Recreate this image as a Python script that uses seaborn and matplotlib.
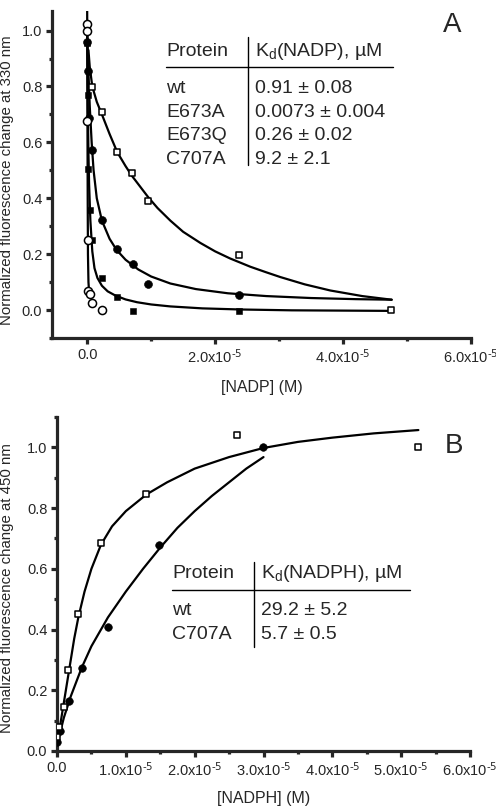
import numpy as np
import pandas as pd
import seaborn as sns
import matplotlib.pyplot as plt
from matplotlib.lines import Line2D
from matplotlib.ticker import MultipleLocator, FuncFormatter

# ---- panel A: NADP titration (fluorescence at 330 nm) ----
a_wt_x = [0.0, 0.02e-5, 0.035e-5, 0.07e-5, 0.23e-5, 0.46e-5, 0.71e-5, 0.95e-5, 2.37e-5]
a_wt_y = [0.96, 0.855, 0.686, 0.571, 0.321, 0.218, 0.164, 0.095, 0.055]
a_e673a_x = [0.0, 0.001e-5, 0.002e-5, 0.005e-5, 0.02e-5, 0.05e-5, 0.07e-5, 0.23e-5]
a_e673a_y = [1.025, 1.0, 0.675, 0.25, 0.069, 0.057, 0.025, 0.0]
a_e673q_x = [0.0, 0.005e-5, 0.02e-5, 0.05e-5, 0.07e-5, 0.23e-5, 0.46e-5, 0.71e-5, 2.37e-5]
a_e673q_y = [0.955, 0.768, 0.504, 0.357, 0.25, 0.115, 0.047, -0.004, -0.003]
a_c707a_x = [0.07e-5, 0.23e-5, 0.47e-5, 0.70e-5, 0.95e-5, 2.37e-5, 4.75e-5]
a_c707a_y = [0.797, 0.707, 0.564, 0.489, 0.39, 0.196, 0.0]

# fitted curves
a_wt_fit_x = [0.0, 0.01e-5, 0.02e-5, 0.04e-5, 0.07e-5, 0.1e-5, 0.15e-5, 0.23e-5, 0.35e-5,
              0.46e-5, 0.6e-5, 0.8e-5, 1.0e-5, 1.3e-5, 1.7e-5, 2.2e-5, 2.8e-5, 3.5e-5,
              4.2e-5, 4.76e-5]
a_wt_fit_y = [1.0, 0.92, 0.85, 0.73, 0.6, 0.5, 0.4, 0.32, 0.255, 0.215, 0.18, 0.145, 0.12,
              0.095, 0.075, 0.06, 0.05, 0.043, 0.039, 0.037]
a_e673a_fit_x = [0.0, 0.004e-5, 0.008e-5, 0.012e-5, 0.02e-5, 0.03e-5]
a_e673a_fit_y = [1.07, 0.7, 0.4, 0.2, 0.1, 0.065]
a_e673q_fit_x = [0.0, 0.01e-5, 0.02e-5, 0.03e-5, 0.05e-5, 0.08e-5, 0.114e-5, 0.16e-5,
                 0.23e-5, 0.32e-5, 0.44e-5, 0.6e-5, 0.78e-5, 1.0e-5, 1.3e-5, 1.8e-5,
                 2.4e-5, 3.2e-5, 4.0e-5, 4.76e-5]
a_e673q_fit_y = [1.0, 0.72, 0.56, 0.45, 0.32, 0.21, 0.15, 0.115, 0.087, 0.067, 0.052, 0.038,
                 0.028, 0.02, 0.013, 0.006, 0.002, -0.001, -0.002, -0.003]
a_c707a_fit_x = [0.02e-5, 0.04e-5, 0.08e-5, 0.15e-5, 0.23e-5, 0.35e-5, 0.47e-5, 0.6e-5,
                 0.7e-5, 0.85e-5, 0.95e-5, 1.1e-5, 1.3e-5, 1.5e-5, 1.77e-5, 2.0e-5,
                 2.23e-5, 2.55e-5, 2.8e-5, 3.02e-5, 3.4e-5, 3.8e-5, 4.3e-5, 4.76e-5]
a_c707a_fit_y = [0.93, 0.87, 0.80, 0.745, 0.70, 0.63, 0.565, 0.515, 0.48, 0.435, 0.405,
                 0.365, 0.32, 0.28, 0.24, 0.21, 0.185, 0.155, 0.135, 0.118, 0.092, 0.07,
                 0.05, 0.037]

a_proteins = ['wt', 'E673A', 'E673Q', 'C707A']
a_kd = ['0.91 \u00b1 0.08', '0.0073 \u00b1 0.004', '0.26 \u00b1 0.02', '9.2 \u00b1 2.1']

# ---- panel B: NADPH titration (fluorescence at 450 nm) ----
b_wt_x = [0.005e-5, 0.04e-5, 0.17e-5, 0.36e-5, 0.74e-5, 1.48e-5, 2.99e-5]
b_wt_y = [0.03, 0.066, 0.165, 0.273, 0.41, 0.68, 1.0]
b_c707a_x = [0.0, 0.03e-5, 0.10e-5, 0.16e-5, 0.31e-5, 0.64e-5, 1.30e-5, 2.62e-5, 5.24e-5]
b_c707a_y = [0.045, 0.08, 0.146, 0.266, 0.45, 0.685, 0.845, 1.04, 1.0]

b_wt_fit_x = [0.0, 0.1e-5, 0.2e-5, 0.36e-5, 0.5e-5, 0.74e-5, 1.0e-5, 1.25e-5, 1.5e-5,
              1.75e-5, 2.0e-5, 2.25e-5, 2.5e-5, 2.75e-5, 3.0e-5]
b_wt_fit_y = [0.02, 0.11, 0.18, 0.275, 0.345, 0.44, 0.525, 0.6, 0.67, 0.735, 0.79, 0.84,
              0.885, 0.93, 0.968]
b_c707a_fit_x = [0.0, 0.05e-5, 0.1e-5, 0.15e-5, 0.2e-5, 0.25e-5, 0.31e-5, 0.4e-5, 0.5e-5,
                 0.64e-5, 0.8e-5, 1.0e-5, 1.3e-5, 1.6e-5, 2.0e-5, 2.5e-5, 3.0e-5, 3.5e-5,
                 4.0e-5, 4.6e-5, 5.25e-5]
b_c707a_fit_y = [0.02, 0.09, 0.16, 0.23, 0.3, 0.37, 0.44, 0.525, 0.6, 0.68, 0.74, 0.79,
                 0.845, 0.885, 0.93, 0.968, 0.998, 1.018, 1.032, 1.046, 1.057]

b_proteins = ['wt', 'C707A']
b_kd = ['29.2 \u00b1 5.2', '5.7 \u00b1 0.5']

W, H = 496, 806


def sciLabel(v, pos):

	"""
	tick labels like 2.0x10^-5
	"""

	if abs(v) < 1e-12:
		return '0.0'
	return r'{:.1f}x10$^{{\text{{-5}}}}$'.format(v / 1e-5)


def styleAxes(ax):

	"""
	thick left / bottom spines, outward ticks
	"""

	sns.despine(ax=ax)
	for s in ['left', 'bottom']:
		ax.spines[s].set_linewidth(2.3)
	ax.tick_params(which='major', length=4, width=2.3, labelsize=10.5, pad=3)
	ax.tick_params(which='minor', length=2.5, width=2.3)
	ax.xaxis.set_major_formatter(FuncFormatter(sciLabel))
	ax.yaxis.set_major_formatter(FuncFormatter(lambda v, p: '{:.1f}'.format(v)))


def fx(px):
	return px / W


def fy(py):
	return 1 - py / H


def drawTable(fig, x0, x1, xv, yhead, yline, yrows, vtop, vbot, header, proteins, kds):

	"""
	small text table with a rule under the header
	"""

	fs = 14
	fig.text(fx(x0), fy(yhead), 'Protein', fontsize=fs, va='baseline')
	fig.text(fx(xv + 7), fy(yhead), header, fontsize=fs, va='baseline')
	for yr, p, k in zip(yrows, proteins, kds):
		fig.text(fx(x0), fy(yr), p, fontsize=fs, va='baseline')
		fig.text(fx(xv + 7), fy(yr), k, fontsize=fs, va='baseline')
	fig.add_artist(Line2D([fx(x0), fx(x1)], [fy(yline), fy(yline)], color='black', lw=1.0))
	fig.add_artist(Line2D([fx(xv), fx(xv)], [fy(vtop), fy(vbot)], color='black', lw=1.0))


def main():

	sns.set_style('ticks')
	plt.rcParams['font.family'] = ['Liberation Sans', 'DejaVu Sans']
	plt.rcParams['mathtext.default'] = 'regular'

	fig = plt.figure(figsize=(W / 100, H / 100), dpi=100)
	axA = fig.add_axes([fx(52), fy(338), fx(471) - fx(52), fy(11) - fy(338)])
	axB = fig.add_axes([fx(57), fy(751), fx(470) - fx(57), fy(417) - fy(751)])

	lw = 1.6
	# panel A curves
	for xs, ys in [(a_wt_fit_x, a_wt_fit_y), (a_e673a_fit_x, a_e673a_fit_y),
	               (a_e673q_fit_x, a_e673q_fit_y), (a_c707a_fit_x, a_c707a_fit_y)]:
		sns.lineplot(x=xs, y=ys, ax=axA, color='black', lw=lw, sort=False, estimator=None)

	# panel A points
	sns.scatterplot(x=a_wt_x, y=a_wt_y, ax=axA, marker='o', s=32, color='black',
	                edgecolor='black', zorder=3)
	sns.scatterplot(x=a_e673q_x, y=a_e673q_y, ax=axA, marker='s', s=24, color='black',
	                edgecolor='black', zorder=3)
	sns.scatterplot(x=a_e673a_x, y=a_e673a_y, ax=axA, marker='o', s=34, facecolor='white',
	                edgecolor='black', linewidth=1.1, zorder=4)
	sns.scatterplot(x=a_c707a_x, y=a_c707a_y, ax=axA, marker='s', s=24, facecolor='white',
	                edgecolor='black', linewidth=1.1, zorder=4)

	axA.set_xlim(-0.55e-5, 6.0e-5)
	axA.set_ylim(-0.1, 1.07)
	axA.xaxis.set_major_locator(MultipleLocator(2e-5))
	axA.xaxis.set_minor_locator(MultipleLocator(1e-5))
	axA.yaxis.set_major_locator(MultipleLocator(0.2))
	axA.yaxis.set_minor_locator(MultipleLocator(0.1))
	styleAxes(axA)
	axA.set_xlabel('[NADP] (M)', fontsize=11.5, va='top')
	axA.set_ylabel('Normalized fluorescence change at 330 nm', fontsize=10.8)
	axA.xaxis.set_label_coords(0.5, -0.128)
	axA.yaxis.set_label_coords(-0.09, 0.483)

	# panel B curves
	for xs, ys in [(b_wt_fit_x, b_wt_fit_y), (b_c707a_fit_x, b_c707a_fit_y)]:
		sns.lineplot(x=xs, y=ys, ax=axB, color='black', lw=lw, sort=False, estimator=None)

	sns.scatterplot(x=b_wt_x, y=b_wt_y, ax=axB, marker='o', s=30, color='black',
	                edgecolor='black', zorder=3)
	sns.scatterplot(x=b_c707a_x, y=b_c707a_y, ax=axB, marker='s', s=17, facecolor='white',
	                edgecolor='black', linewidth=1.1, zorder=4)

	axB.set_xlim(0, 6.0e-5)
	axB.set_ylim(0, 1.1)
	axB.xaxis.set_major_locator(MultipleLocator(1e-5))
	axB.xaxis.set_minor_locator(MultipleLocator(0.5e-5))
	axB.yaxis.set_major_locator(MultipleLocator(0.2))
	axB.yaxis.set_minor_locator(MultipleLocator(0.1))
	styleAxes(axB)
	axB.set_xlabel('[NADPH] (M)', fontsize=11.5, va='top')
	axB.set_ylabel('Normalized fluorescence change at 450 nm', fontsize=10.8)
	axB.xaxis.set_label_coords(0.5, -0.12)
	axB.yaxis.set_label_coords(-0.104, 0.488)

	# tables and panel letters
	drawTable(fig, 166, 393, 248, 56, 67, [92.7, 116.7, 140.3, 163.7], 37, 165,
	          'K$_{d}$(NADP), \u00b5M', a_proteins, a_kd)
	drawTable(fig, 172, 410, 254, 578, 590, [615, 639], 562, 647,
	          'K$_{d}$(NADPH), \u00b5M', b_proteins, b_kd)
	fig.text(fx(443), fy(31.7), 'A', fontsize=20, va='baseline')
	fig.text(fx(445), fy(452.7), 'B', fontsize=20, va='baseline')

	fig.savefig('out.png', dpi=100)


if __name__ == '__main__':
	main()
